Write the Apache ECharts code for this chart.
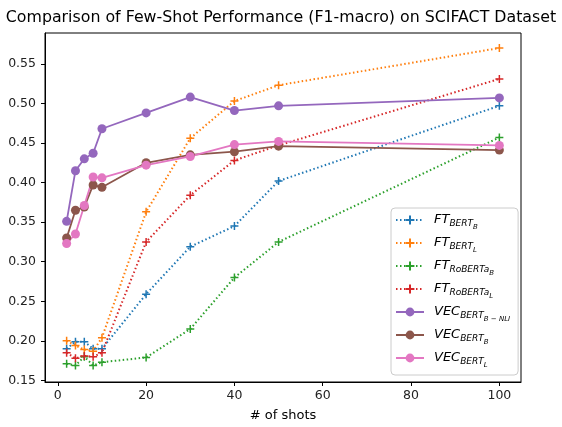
<!DOCTYPE html>
<html>
<head>
<meta charset="utf-8">
<script src="https://cdn.jsdelivr.net/npm/echarts@6/dist/echarts.min.js"></script>
<style>
  html, body { margin: 0; padding: 0; background: #fff; }
  #main { width: 562px; height: 427px; }
</style>
</head>
<body>
<div id="main"></div>
<script>
// few-shot F1-macro on SCIFACT
var shots = [2, 4, 6, 8, 10, 20, 30, 40, 50, 100];

var ft_bert_b    = [0.190, 0.199, 0.199, 0.190, 0.190, 0.259, 0.319, 0.345, 0.402, 0.497];
var ft_bert_l    = [0.200, 0.194, 0.189, 0.187, 0.204, 0.363, 0.456, 0.503, 0.523, 0.570];
var ft_roberta_b = [0.171, 0.169, 0.180, 0.169, 0.173, 0.179, 0.215, 0.280, 0.325, 0.457];
var ft_roberta_l = [0.185, 0.178, 0.181, 0.180, 0.185, 0.325, 0.384, 0.428, 0.447, 0.531];
var vec_nli      = [0.351, 0.415, 0.430, 0.437, 0.468, 0.488, 0.508, 0.491, 0.497, 0.507];
var vec_bert_b   = [0.330, 0.365, 0.369, 0.397, 0.394, 0.425, 0.435, 0.439, 0.446, 0.441];
var vec_bert_l   = [0.323, 0.335, 0.371, 0.407, 0.406, 0.422, 0.433, 0.448, 0.452, 0.447];

var xTicks = [0, 20, 40, 60, 80, 100];
var yTicks = [0.15, 0.20, 0.25, 0.30, 0.35, 0.40, 0.45, 0.50, 0.55];

var FONT = 'DejaVu Sans';
var PLUS = 'path://M4,0 L4,8 M0,4 L8,4';

function pairs(vals) {
  var out = [];
  for (var i = 0; i < shots.length; i++) {
    out.push([shots[i], vals[i]]);
  }
  return out;
}

function ftSeries(name, color, vals) {
  return {
    name: name,
    type: 'line',
    data: pairs(vals),
    symbol: PLUS,
    symbolSize: 8,
    itemStyle: { color: color, borderColor: color, borderWidth: 1.5 },
    lineStyle: { color: color, width: 2, type: [1.5, 2.5], cap: 'butt' },
    emphasis: { disabled: true },
    animation: false
  };
}

function vecSeries(name, color, vals) {
  return {
    name: name,
    type: 'line',
    data: pairs(vals),
    symbol: 'circle',
    symbolSize: 9,
    itemStyle: { color: color, borderWidth: 0 },
    lineStyle: { color: color, width: 1.8 },
    emphasis: { disabled: true },
    animation: false
  };
}

var legendText = {
  'FT_BERT_B': '{m|FT}{s|BERT}{ss|B}',
  'FT_BERT_L': '{m|FT}{s|BERT}{ss|L}',
  'FT_RoBERTa_B': '{m|FT}{s|RoBERTa}{ss|B}',
  'FT_RoBERTa_L': '{m|FT}{s|RoBERTa}{ss|L}',
  'VEC_BERT_B-NLI': '{m|VEC}{s|BERT}{ss|B \u2212 NLI}',
  'VEC_BERT_B': '{m|VEC}{s|BERT}{ss|B}',
  'VEC_BERT_L': '{m|VEC}{s|BERT}{ss|L}'
};

var chart = echarts.init(document.getElementById('main'), null, { renderer: 'canvas' });

chart.setOption({
  backgroundColor: '#fff',
  animation: false,
  title: {
    text: 'Comparison of Few-Shot Performance (F1-macro) on SCIFACT Dataset',
    left: 'center',
    top: 5,
    textStyle: { fontFamily: FONT, fontSize: 15.8, fontWeight: 'normal', color: '#000' }
  },
  grid: {
    left: 45, right: 41, top: 33, bottom: 39,
    show: true, borderColor: '#000', borderWidth: 1, backgroundColor: 'transparent'
  },
  xAxis: {
    type: 'value',
    min: -2.9,
    max: 104.9,
    name: '# of shots',
    nameLocation: 'middle',
    nameGap: 27,
    nameTextStyle: { fontFamily: FONT, fontSize: 13, color: '#000' },
    axisLine: { show: true, onZero: false, lineStyle: { color: '#000', width: 1 } },
    axisTick: { show: true, length: 4, lineStyle: { color: '#000' }, customValues: xTicks },
    axisLabel: { fontFamily: FONT, fontSize: 12.5, color: '#222', margin: 7, customValues: xTicks },
    splitLine: { show: false }
  },
  yAxis: {
    type: 'value',
    min: 0.148,
    max: 0.589,
    axisLine: { show: true, onZero: false, lineStyle: { color: '#000', width: 1 } },
    axisTick: { show: true, length: 4, lineStyle: { color: '#000' }, customValues: yTicks },
    axisLabel: {
      fontFamily: FONT, fontSize: 12.5, color: '#222', margin: 9, customValues: yTicks,
      formatter: function (v) { return v.toFixed(2); }
    },
    splitLine: { show: false }
  },
  legend: {
    orient: 'vertical',
    left: 391,
    top: 208,
    padding: [5, 8, 6, 4],
    itemGap: 5,
    itemWidth: 28,
    itemHeight: 11,
    backgroundColor: 'rgba(255,255,255,0.8)',
    borderColor: '#cccccc',
    borderWidth: 1,
    borderRadius: 4,
    formatter: function (name) { return legendText[name]; },
    textStyle: {
      padding: [0, 0, 0, 5],
      rich: {
        m: { fontFamily: FONT, fontSize: 13, fontStyle: 'italic', color: '#000', lineHeight: 14, verticalAlign: 'top' },
        s: { fontFamily: FONT, fontSize: 9, fontStyle: 'italic', color: '#000', lineHeight: 10, padding: [6, 0, 0, 0], verticalAlign: 'top' },
        ss: { fontFamily: FONT, fontSize: 7, fontStyle: 'italic', color: '#000', lineHeight: 8, padding: [11, 0, 0, 0], verticalAlign: 'top' }
      }
    }
  },
  series: [
    ftSeries('FT_BERT_B', '#1f77b4', ft_bert_b),
    ftSeries('FT_BERT_L', '#ff7f0e', ft_bert_l),
    ftSeries('FT_RoBERTa_B', '#2ca02c', ft_roberta_b),
    ftSeries('FT_RoBERTa_L', '#d62728', ft_roberta_l),
    vecSeries('VEC_BERT_B-NLI', '#9467bd', vec_nli),
    vecSeries('VEC_BERT_B', '#8c564b', vec_bert_b),
    vecSeries('VEC_BERT_L', '#e377c2', vec_bert_l)
  ]
});
</script>
</body>
</html>
